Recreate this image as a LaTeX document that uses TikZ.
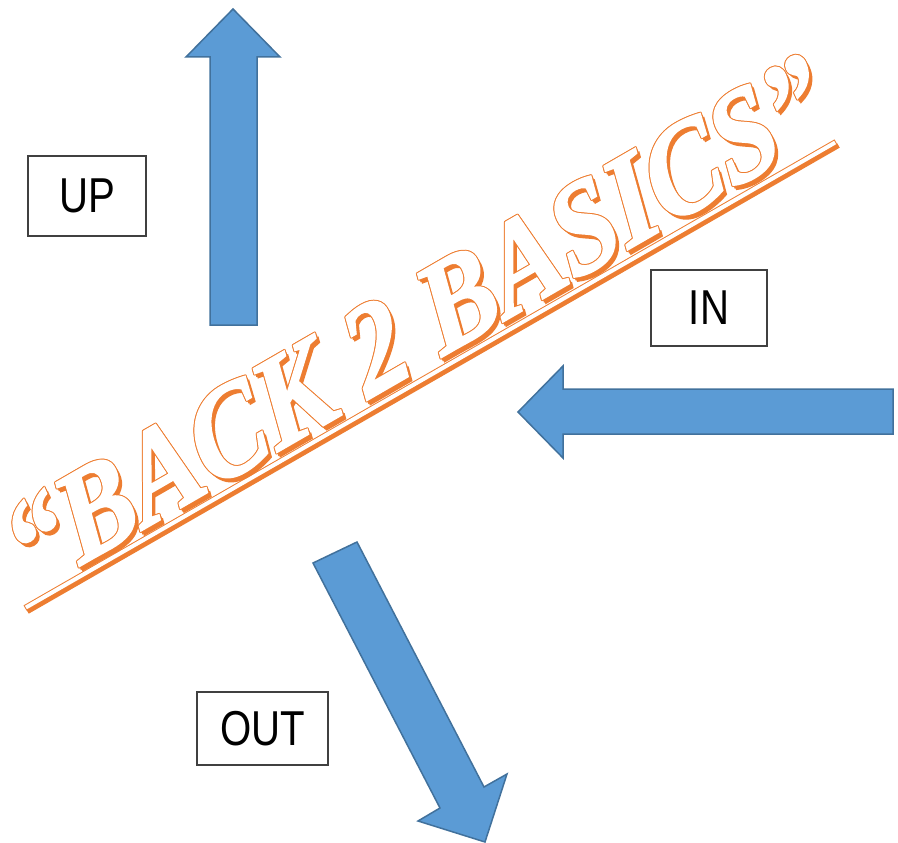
\documentclass[tikz,border=0pt]{standalone}
\usepackage{fontspec}
\setmainfont{Liberation Serif}
\newfontfamily\titlefont[FakeStretch=0.89,FakeSlant=0.1,FakeBold=1.5,UprightFont={* Bold Italic}]{Liberation Serif}
\newfontfamily\boxfont[FakeStretch=0.82]{Liberation Sans}
\definecolor{arrowfill}{HTML}{5B9BD5}
\definecolor{arrowline}{HTML}{41719C}
\definecolor{wordart}{HTML}{ED7D31}
\definecolor{boxline}{HTML}{404040}
\newcommand{\btitle}{“BACK 2 BASICS”}
\tikzset{
  blockarrow/.style={fill=arrowfill, draw=arrowline, line width=1.5pt, line join=miter},
  labelbox/.style={draw=boxline, line width=1.2pt, fill=white, inner sep=0pt,
    font=\boxfont\fontsize{49}{50}\selectfont},
  wa/.style={rotate=30, anchor=base, inner sep=0pt,
    font=\titlefont\fontsize{128}{132}\selectfont},
}
\begin{document}
\begin{tikzpicture}[x=1pt,y=-1pt]
\useasboundingbox (0,0) rectangle (898,843);
% block arrows
\draw[blockarrow] (210,325) -- (210,57) -- (186,57) -- (233,9) -- (280,57) -- (257,57) -- (257,325) -- cycle;
\draw[blockarrow] (893,389) -- (563,389) -- (563,366) -- (518,412) -- (563,458) -- (563,434) -- (893,434) -- cycle;
\draw[blockarrow] (313,563) -- (357,542) -- (484,787) -- (507,774) -- (485,842) -- (418,821) -- (440,808) -- cycle;
% label boxes
\node[labelbox, minimum width=118pt, minimum height=80pt] (up) at (87,196) {UP};
\node[labelbox, minimum width=116pt, minimum height=76pt] (in) at (709,308) {IN};
\node[labelbox, minimum width=131pt, minimum height=73pt] (out) at (262.5,728.5) {OUT};
% underline
\coordinate (U1) at (25,608);
\coordinate (U2) at (836,142);
\draw[wordart, line width=5pt] ([shift={(2.5,3.5)}]U1) -- ([shift={(2.5,3.5)}]U2);
\draw[wordart, line width=6pt] (U1) -- (U2);
\draw[white, line width=4pt, shorten <=1pt, shorten >=1pt] (U1) -- (U2);
% title
\coordinate (T) at (434,361.5);
\node[wa, text=wordart] (tshadow) at ([shift={(3.5,4)}]T) {\btitle};
\node[wa, text=wordart] (tshadowb) at ([shift={(2,2.5)}]T) {\btitle};
\foreach \a in {0,45,...,315}
  \node[wa, text=wordart] (tout\a) at ([shift={(\a:1)}]T) {\btitle};
\node[wa, text=white] (title) at (T) {\btitle};
\end{tikzpicture}
\end{document}
